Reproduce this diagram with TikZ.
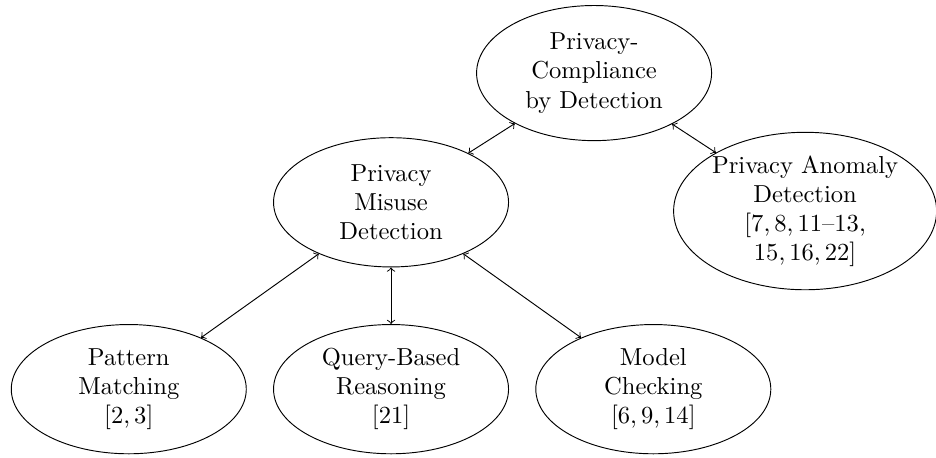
\documentclass[tikz,border=0pt]{standalone}
\usetikzlibrary{shapes.geometric}

\begin{document}
\begin{tikzpicture}[<->,>=to,auto,node distance=55pt,main node/.style={ellipse,draw,align=center,inner sep=0pt,minimum width=100pt,minimum height=55pt,font=\fontsize{10.45}{12.4}\selectfont},wide node/.style={main node,minimum width=111.5pt,minimum height=67pt}]
                \useasboundingbox (0,0) rectangle (398.3pt,-194.5pt);
                \node[main node,minimum height=57.5pt] (1) at (252.8pt,-31.1pt) {Privacy-\\Compliance\\by Detection};
                \node[main node] (2) [below of=1, xshift=-86.4pt] {Privacy\\Misuse\\Detection};
                \node[wide node] (3) [below of=1, xshift=89.8pt, yshift=-3.7pt] {Privacy Anomaly\\Detection\\{}[7,\,8,\,11--13,\\15,\,16,\,22]};
                \node[main node] (4) [below of=2, yshift=-24.5pt] {Query-Based\\Reasoning\\{}[21]};
                \node[main node] (5) [left of=4, node distance=111.6pt] {Pattern\\Matching\\{}[2,\,3]};
                \node[main node] (6) [right of=4, node distance=111.6pt] {Model\\Checking\\{}[6,\,9,\,14]};

                \path
                    (1) edge (2)
                    (1) edge (3)
                ;
                \path
                    (2) edge (5)
                    (2) edge (4)
                    (2) edge (6)
                ;
            \end{tikzpicture}
\end{document}
